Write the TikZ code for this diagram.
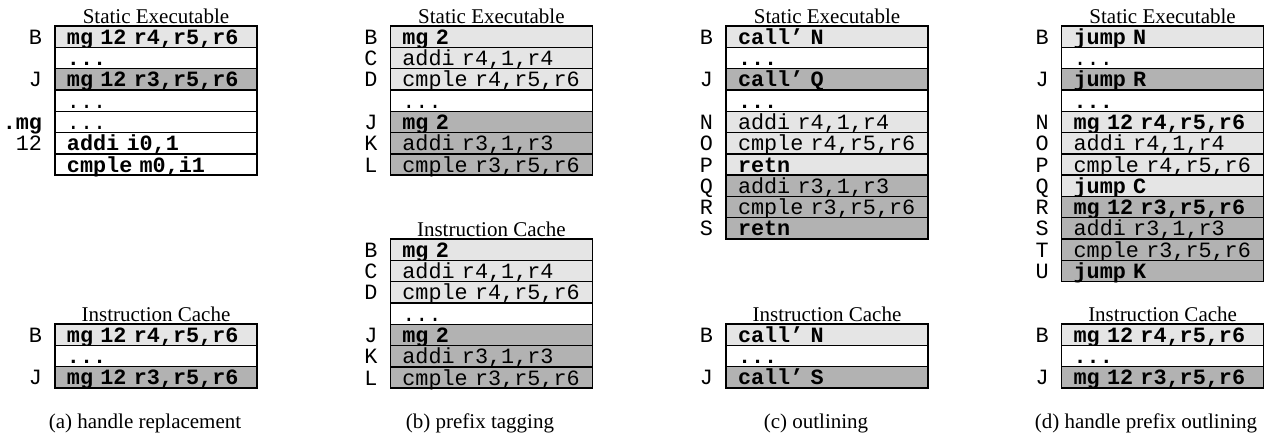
\documentclass[tikz,border=0pt]{standalone}
\usepackage{fontspec}
\setmainfont{Liberation Serif}
\setmonofont{Liberation Mono}[WordSpace={1,0,0}]
\usetikzlibrary{positioning}
\newcommand{\codefont}{\fontsize{10.9}{12}\ttfamily\spaceskip=0.6em\relax}

\begin{document}
\begin{tikzpicture}[x=1pt,y=1pt,
    cell/.style={draw,line width=0.7pt,outer sep=0pt,inner xsep=6pt,inner ysep=0pt,
                 text width=89pt,text height=9.1pt,text depth=1.55pt,align=left,
                 font=\codefont},
    lite/.style={cell,fill=black!10},
    dark/.style={cell,fill=black!30},
    blank/.style={cell,fill=white},
    addr/.style={inner sep=0pt,outer sep=0pt,text height=9.1pt,text depth=1.55pt,
                 font=\codefont},
    title/.style={inner sep=1pt,font=\fontsize{10.5}{12}\selectfont},
    capt/.style={font=\fontsize{10.5}{12}\selectfont}]

  \useasboundingbox (0,0) rectangle (641,-218);

  % (a) handle replacement
  \node[lite,anchor=north west] (a1) at (27.5,-13) {\bfseries mg 12 r4,r5,r6};
  \node[blank,below=0pt of a1] (a2) {\bfseries ...};
  \node[dark,below=0pt of a2] (a3) {\bfseries mg 12 r3,r5,r6};
  \node[blank,below=0pt of a3] (a4) {...};
  \node[blank,below=0pt of a4] (a5) {...};
  \node[blank,below=0pt of a5] (a6) {\bfseries addi i0,1};
  \node[blank,below=0pt of a6] (a7) {\bfseries cmple m0,i1};
  \node[title,above=0pt of a1] (aSE) {Static Executable};
  \node[addr,left=6.5pt of a1] (aB) {B};
  \node[addr,left=6.5pt of a3] (aJ) {J};
  \node[addr,left=6.5pt of a5] (aMg) {\bfseries .mg};
  \node[addr,left=6.5pt of a6] (a12) {12};

  \node[lite,anchor=north west] (ac1) at (27.5,-162) {\bfseries mg 12 r4,r5,r6};
  \node[blank,below=0pt of ac1] (ac2) {\bfseries ...};
  \node[dark,below=0pt of ac2] (ac3) {\bfseries mg 12 r3,r5,r6};
  \node[title,above=0pt of ac1] (aIC) {Instruction Cache};
  \node[addr,left=6.5pt of ac1] (acB) {B};
  \node[addr,left=6.5pt of ac3] (acJ) {J};

  \node[capt] (aCap) at (72.5,-211.5) {(a) handle replacement};

  % (b) prefix tagging
  \node[lite,anchor=north west] (b1) at (195.2,-13) {\bfseries mg 2};
  \node[lite,below=0pt of b1] (b2) {addi r4,1,r4};
  \node[lite,below=0pt of b2] (b3) {cmple r4,r5,r6};
  \node[blank,below=0pt of b3] (b4) {...};
  \node[dark,below=0pt of b4] (b5) {\bfseries mg 2};
  \node[dark,below=0pt of b5] (b6) {addi r3,1,r3};
  \node[dark,below=0pt of b6] (b7) {cmple r3,r5,r6};
  \node[title,above=0pt of b1] (bSE) {Static Executable};
  \node[addr,left=6.5pt of b1] (bB) {B};
  \node[addr,left=6.5pt of b2] (bC) {C};
  \node[addr,left=6.5pt of b3] (bD) {D};
  \node[addr,left=6.5pt of b5] (bJ) {J};
  \node[addr,left=6.5pt of b6] (bK) {K};
  \node[addr,left=6.5pt of b7] (bL) {L};

  \node[lite,anchor=north west] (bc1) at (195.2,-119.5) {\bfseries mg 2};
  \node[lite,below=0pt of bc1] (bc2) {addi r4,1,r4};
  \node[lite,below=0pt of bc2] (bc3) {cmple r4,r5,r6};
  \node[blank,below=0pt of bc3] (bc4) {...};
  \node[dark,below=0pt of bc4] (bc5) {\bfseries mg 2};
  \node[dark,below=0pt of bc5] (bc6) {addi r3,1,r3};
  \node[dark,below=0pt of bc6] (bc7) {cmple r3,r5,r6};
  \node[title,above=0pt of bc1] (bIC) {Instruction Cache};
  \node[addr,left=6.5pt of bc1] (bcB) {B};
  \node[addr,left=6.5pt of bc2] (bcC) {C};
  \node[addr,left=6.5pt of bc3] (bcD) {D};
  \node[addr,left=6.5pt of bc5] (bcJ) {J};
  \node[addr,left=6.5pt of bc6] (bcK) {K};
  \node[addr,left=6.5pt of bc7] (bcL) {L};

  \node[capt] (bCap) at (240,-211.5) {(b) prefix tagging};

  % (c) outlining
  \node[lite,anchor=north west] (c1) at (363,-13) {\bfseries call’ N};
  \node[blank,below=0pt of c1] (c2) {\bfseries ...};
  \node[dark,below=0pt of c2] (c3) {\bfseries call’ Q};
  \node[blank,below=0pt of c3] (c4) {\bfseries ...};
  \node[lite,below=0pt of c4] (c5) {addi r4,1,r4};
  \node[lite,below=0pt of c5] (c6) {cmple r4,r5,r6};
  \node[lite,below=0pt of c6] (c7) {\bfseries retn};
  \node[dark,below=0pt of c7] (c8) {addi r3,1,r3};
  \node[dark,below=0pt of c8] (c9) {cmple r3,r5,r6};
  \node[dark,below=0pt of c9] (c10) {\bfseries retn};
  \node[title,above=0pt of c1] (cSE) {Static Executable};
  \node[addr,left=6.5pt of c1] (cB) {B};
  \node[addr,left=6.5pt of c3] (cJ) {J};
  \node[addr,left=6.5pt of c5] (cN) {N};
  \node[addr,left=6.5pt of c6] (cO) {O};
  \node[addr,left=6.5pt of c7] (cP) {P};
  \node[addr,left=6.5pt of c8] (cQ) {Q};
  \node[addr,left=6.5pt of c9] (cR) {R};
  \node[addr,left=6.5pt of c10] (cS) {S};

  \node[lite,anchor=north west] (cc1) at (363,-162) {\bfseries call’ N};
  \node[blank,below=0pt of cc1] (cc2) {\bfseries ...};
  \node[dark,below=0pt of cc2] (cc3) {\bfseries call’ S};
  \node[title,above=0pt of cc1] (cIC) {Instruction Cache};
  \node[addr,left=6.5pt of cc1] (ccB) {B};
  \node[addr,left=6.5pt of cc3] (ccJ) {J};

  \node[capt] (cCap) at (408,-211.5) {(c) outlining};

  % (d) handle prefix outlining
  \node[lite,anchor=north west] (d1) at (530.8,-13) {\bfseries jump N};
  \node[blank,below=0pt of d1] (d2) {...};
  \node[dark,below=0pt of d2] (d3) {\bfseries jump R};
  \node[blank,below=0pt of d3] (d4) {\bfseries ...};
  \node[lite,below=0pt of d4] (d5) {\bfseries mg 12 r4,r5,r6};
  \node[lite,below=0pt of d5] (d6) {addi r4,1,r4};
  \node[lite,below=0pt of d6] (d7) {cmple r4,r5,r6};
  \node[lite,below=0pt of d7] (d8) {\bfseries jump C};
  \node[dark,below=0pt of d8] (d9) {\bfseries mg 12 r3,r5,r6};
  \node[dark,below=0pt of d9] (d10) {addi r3,1,r3};
  \node[dark,below=0pt of d10] (d11) {cmple r3,r5,r6};
  \node[dark,below=0pt of d11] (d12) {\bfseries jump K};
  \node[title,above=0pt of d1] (dSE) {Static Executable};
  \node[addr,left=6.5pt of d1] (dB) {B};
  \node[addr,left=6.5pt of d3] (dJ) {J};
  \node[addr,left=6.5pt of d5] (dN) {N};
  \node[addr,left=6.5pt of d6] (dO) {O};
  \node[addr,left=6.5pt of d7] (dP) {P};
  \node[addr,left=6.5pt of d8] (dQ) {Q};
  \node[addr,left=6.5pt of d9] (dR) {R};
  \node[addr,left=6.5pt of d10] (dS) {S};
  \node[addr,left=6.5pt of d11] (dT) {T};
  \node[addr,left=6.5pt of d12] (dU) {U};

  \node[lite,anchor=north west] (dc1) at (530.8,-162) {\bfseries mg 12 r4,r5,r6};
  \node[blank,below=0pt of dc1] (dc2) {\bfseries ...};
  \node[dark,below=0pt of dc2] (dc3) {\bfseries mg 12 r3,r5,r6};
  \node[title,above=0pt of dc1] (dIC) {Instruction Cache};
  \node[addr,left=6.5pt of dc1] (dcB) {B};
  \node[addr,left=6.5pt of dc3] (dcJ) {J};

  \node[capt] (dCap) at (573,-211.5) {(d) handle prefix outlining};
\end{tikzpicture}
\end{document}
